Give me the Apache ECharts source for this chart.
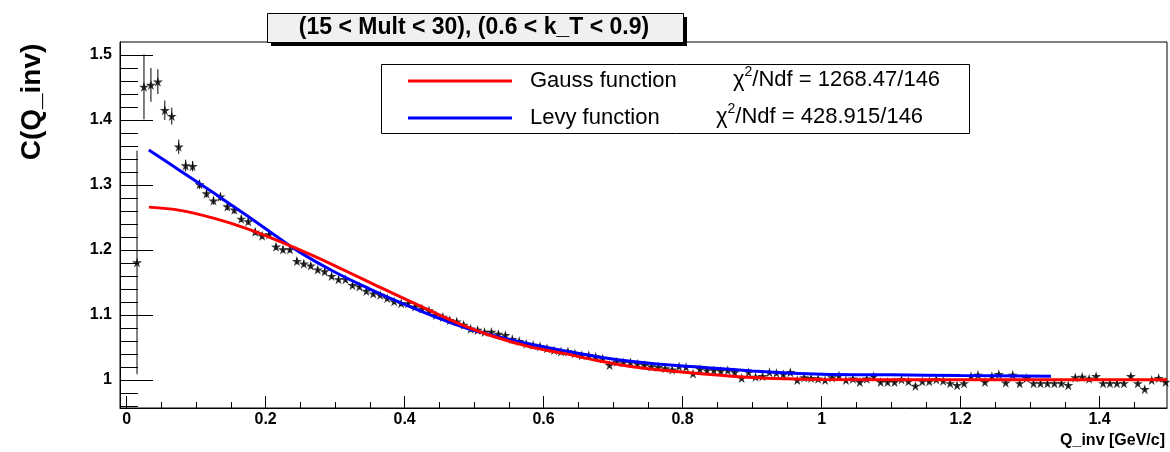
<!DOCTYPE html>
<html><head><meta charset="utf-8">
<script src="https://cdn.jsdelivr.net/npm/echarts@6/dist/echarts.min.js"></script>
<style>html,body{margin:0;padding:0;background:#fff}#c{width:1170px;height:452px}</style>
</head><body><div id="c"></div>
<script>
// ---- data ----
const qValues = [0.015,0.025,0.035,0.045,0.055,0.065,0.075,0.085,0.095,0.105,
0.115,0.125,0.135,0.145,0.155,0.165,0.175,0.185,0.195,0.205,
0.215,0.225,0.235,0.245,0.255,0.265,0.275,0.285,0.295,0.305,
0.315,0.325,0.335,0.345,0.355,0.365,0.375,0.385,0.395,0.405,
0.415,0.425,0.435,0.445,0.455,0.465,0.475,0.485,0.495,0.505,
0.515,0.525,0.535,0.545,0.555,0.565,0.575,0.585,0.595,0.605,
0.615,0.625,0.635,0.645,0.655,0.665,0.675,0.685,0.695,0.705,
0.715,0.725,0.735,0.745,0.755,0.765,0.775,0.785,0.795,0.805,
0.815,0.825,0.835,0.845,0.855,0.865,0.875,0.885,0.895,0.905,
0.915,0.925,0.935,0.945,0.955,0.965,0.975,0.985,0.995,1.005,
1.015,1.025,1.035,1.045,1.055,1.065,1.075,1.085,1.095,1.105,
1.115,1.125,1.135,1.145,1.155,1.165,1.175,1.185,1.195,1.205,
1.215,1.225,1.235,1.245,1.255,1.265,1.275,1.285,1.295,1.305,
1.315,1.325,1.335,1.345,1.355,1.365,1.375,1.385,1.395,1.405,
1.415,1.425,1.435,1.445,1.455,1.465,1.475,1.485,1.495];
const cValues = [1.181,1.451,1.454,1.459,1.415,1.406,1.359,1.330,1.329,1.301,
1.287,1.276,1.282,1.267,1.262,1.248,1.244,1.228,1.222,1.224,
1.205,1.201,1.201,1.183,1.179,1.176,1.170,1.167,1.160,1.155,
1.155,1.146,1.144,1.137,1.133,1.131,1.126,1.121,1.118,1.118,
1.113,1.110,1.107,1.100,1.097,1.092,1.090,1.085,1.079,1.077,
1.074,1.074,1.071,1.069,1.063,1.060,1.056,1.054,1.052,1.049,
1.046,1.044,1.044,1.041,1.038,1.038,1.036,1.033,1.023,1.028,
1.027,1.027,1.025,1.023,1.021,1.020,1.018,1.016,1.021,1.020,
1.010,1.017,1.015,1.015,1.014,1.015,1.012,1.003,1.012,1.005,
1.006,1.012,1.011,1.009,1.012,1.000,1.004,1.003,1.002,1.000,
1.004,1.007,1.000,1.002,0.997,1.002,1.006,0.997,0.997,0.997,
1.001,0.998,0.991,0.998,0.998,1.001,0.999,0.995,0.992,0.995,
1.006,1.008,0.997,1.006,1.009,0.996,1.008,0.995,1.003,0.995,
0.995,0.995,0.995,0.995,0.992,1.004,1.005,1.002,1.006,0.995,
0.995,0.995,0.995,1.006,0.995,0.986,1.000,1.003,0.997];
const cErrors = [0.172,0.050,0.026,0.019,0.015,0.013,0.011,0.009,0.008,0.007,
0.006,0.006,0.006,0.006,0.006,0.005,0.005,0.005,0.005,0.005,
0.005,0.005,0.005,0.005,0.005,0.004,0.004,0.004,0.004,0.004,
0.004,0.004,0.004,0.004,0.004,0.004,0.004,0.004,0.004,0.004,
0.004,0.004,0.004,0.004,0.004,0.004,0.004,0.004,0.004,0.004,
0.003,0.003,0.003,0.003,0.003,0.003,0.003,0.003,0.003,0.003,
0.003,0.003,0.003,0.003,0.003,0.003,0.003,0.003,0.003,0.003,
0.003,0.003,0.003,0.003,0.003,0.003,0.003,0.003,0.003,0.003,
0.003,0.003,0.003,0.003,0.003,0.003,0.003,0.003,0.003,0.003,
0.003,0.003,0.003,0.003,0.003,0.003,0.003,0.003,0.003,0.003,
0.003,0.003,0.003,0.003,0.003,0.003,0.003,0.003,0.003,0.003,
0.003,0.003,0.003,0.003,0.003,0.003,0.003,0.003,0.003,0.003,
0.003,0.003,0.003,0.003,0.003,0.003,0.003,0.003,0.003,0.003,
0.003,0.003,0.003,0.003,0.003,0.003,0.003,0.003,0.003,0.003,
0.003,0.003,0.003,0.003,0.003,0.003,0.003,0.003,0.003];
const gaussQ = [0.032,0.077,0.125,0.173,0.221,0.269,0.317,0.36,0.384,0.432,0.48,0.528,0.581,0.629,0.677,0.725,0.773,0.835,0.9,0.95,1.0,1.2,1.497];
const gaussC = [1.266,1.261,1.249,1.233,1.213,1.191,1.167,1.145,1.133,1.109,1.086,1.067,1.051,1.041,1.030,1.021,1.015,1.009,1.004,1.002,1.001,1.0005,1.0005];
const levyQ = [0.032,0.077,0.125,0.173,0.221,0.25,0.298,0.35,0.394,0.442,0.494,0.55,0.581,0.629,0.677,0.725,0.773,0.835,0.9,0.95,1.0,1.1,1.2,1.33];
const levyC = [1.354,1.322,1.288,1.253,1.217,1.196,1.167,1.140,1.119,1.098,1.078,1.063,1.055,1.045,1.036,1.029,1.024,1.019,1.014,1.011,1.009,1.008,1.007,1.006];
const xMajorTicks = [0,0.2,0.4,0.6,0.8,1.0,1.2,1.4];
const xMinorTicks = [0.05,0.1,0.15,0.25,0.3,0.35,0.45,0.5,0.55,0.65,0.7,0.75,0.85,0.9,0.95,1.05,1.1,1.15,1.25,1.3,1.35,1.45];
const yMajorTicks = [1.0,1.1,1.2,1.3,1.4,1.5];
const yMinorTicks = [0.96,0.98,1.02,1.04,1.06,1.08,1.12,1.14,1.16,1.18,1.22,1.24,1.26,1.28,1.32,1.34,1.36,1.38,1.42,1.44,1.46,1.48];
const titleText = '(15 < Mult < 30), (0.6 < k_T < 0.9)';
const seriesNames = ['Gauss function', 'Levy function'];
const chiValues = ['1268.47/146', '428.915/146'];
const xTitle = 'Q_inv [GeV/c]';
const yTitle = 'C(Q_inv)';

// ---- chart ----
const FONT = '"Liberation Sans", Arial, Helvetica, sans-serif';
const XMIN = -0.0095, XMAX = 1.497, YMIN = 0.957, YMAX = 1.52;
const fmt = v => String(Math.round(v * 10) / 10);
const STAR = 'path://M50,0 L61,35 L98,35 L68,57 L79,91 L50,70 L21,91 L32,57 L2,35 L39,35 Z';

const chart = echarts.init(document.getElementById('c'), null, {renderer: 'canvas'});
const chiRich = {
  n: {fontFamily: FONT, fontSize: 22, color: '#000', lineHeight: 26, verticalAlign: 'bottom'},
  s: {fontFamily: FONT, fontSize: 14, color: '#000', lineHeight: 26, verticalAlign: 'top'}
};
const option = {
  animation: false,
  backgroundColor: '#fff',
  grid: {left: 120, top: 42, right: 3, bottom: 44, show: true, borderColor: '#000', borderWidth: 1, backgroundColor: 'transparent'},
  xAxis: [
    {type: 'value', min: XMIN, max: XMAX, position: 'bottom',
     axisLine: {show: true, onZero: false, lineStyle: {color: '#000', width: 1}},
     axisTick: {show: true, inside: true, length: 12, customValues: xMajorTicks, lineStyle: {color: '#000', width: 1}},
     axisLabel: {show: true, customValues: xMajorTicks, formatter: fmt, color: '#000', fontFamily: FONT, fontWeight: 'bold', fontSize: 16, margin: 4},
     splitLine: {show: false}},
    {type: 'value', min: XMIN, max: XMAX, position: 'bottom',
     axisLine: {show: false, onZero: false},
     axisTick: {show: true, inside: true, length: 6, customValues: xMinorTicks, lineStyle: {color: '#000', width: 1}},
     axisLabel: {show: false}, splitLine: {show: false}}
  ],
  yAxis: [
    {type: 'value', min: YMIN, max: YMAX, position: 'left',
     axisLine: {show: true, onZero: false, lineStyle: {color: '#000', width: 1}},
     axisTick: {show: true, inside: true, length: 33, customValues: yMajorTicks, lineStyle: {color: '#000', width: 1}},
     axisLabel: {show: true, customValues: yMajorTicks, formatter: fmt, color: '#000', fontFamily: FONT, fontWeight: 'bold', fontSize: 16, margin: 8},
     splitLine: {show: false}},
    {type: 'value', min: YMIN, max: YMAX, position: 'left',
     axisLine: {show: false, onZero: false},
     axisTick: {show: true, inside: true, length: 18, customValues: yMinorTicks, lineStyle: {color: '#000', width: 1}},
     axisLabel: {show: false}, splitLine: {show: false}}
  ],
  legend: {
    data: seriesNames, orient: 'vertical', left: 403, top: 65, itemWidth: 104, itemHeight: 3, itemGap: 15,
    icon: 'rect', selectedMode: false, z: 6,
    textStyle: {fontFamily: FONT, fontSize: 22, color: '#000', lineHeight: 22, padding: [0, 0, 0, 13]}
  },
  series: [
    {type: 'custom', name: 'errors', xAxisIndex: 0, yAxisIndex: 0, clip: true, silent: true, z: 2,
     data: qValues.map((q, i) => [q, cValues[i] - cErrors[i], cValues[i] + cErrors[i]]),
     renderItem: (params, api) => {
       const p1 = api.coord([api.value(0), api.value(1)]);
       const p2 = api.coord([api.value(0), api.value(2)]);
       return {type: 'line', shape: {x1: p1[0], y1: p1[1], x2: p2[0], y2: p2[1]}, style: {stroke: '#000', lineWidth: 1}};
     }},
    {type: 'scatter', name: 'data', xAxisIndex: 0, yAxisIndex: 0, clip: true, z: 3,
     symbol: STAR, symbolSize: 10, itemStyle: {color: '#000'},
     data: qValues.map((q, i) => [q, cValues[i]])},
    {type: 'line', name: seriesNames[1], xAxisIndex: 0, yAxisIndex: 0, z: 4,
     data: levyQ.map((q, i) => [q, levyC[i]]), showSymbol: false, symbol: 'none', smooth: 0.35,
     color: '#0000ff', lineStyle: {color: '#0000ff', width: 3}},
    {type: 'line', name: seriesNames[0], xAxisIndex: 0, yAxisIndex: 0, z: 5,
     data: gaussQ.map((q, i) => [q, gaussC[i]]), showSymbol: false, symbol: 'none', smooth: 0.35,
     color: '#ff0000', lineStyle: {color: '#ff0000', width: 3}}
  ],
  graphic: [
    {type: 'rect', z: 5, shape: {x: 381.5, y: 64.5, width: 588, height: 69}, style: {fill: '#fff', stroke: '#000', lineWidth: 1}},
    {type: 'text', z: 7, x: 733, y: 78, style: {text: '{n|χ}{s|2}{n|/Ndf = ' + chiValues[0] + '}', rich: chiRich, verticalAlign: 'middle'}},
    {type: 'text', z: 7, x: 716, y: 115, style: {text: '{n|χ}{s|2}{n|/Ndf = ' + chiValues[1] + '}', rich: chiRich, verticalAlign: 'middle'}},
    {type: 'rect', z: 8, shape: {x: 271, y: 17, width: 416, height: 29}, style: {fill: '#000'}},
    {type: 'rect', z: 9, shape: {x: 267.5, y: 13.5, width: 416, height: 29}, style: {fill: '#f0f0f0', stroke: '#000', lineWidth: 1}},
    {type: 'text', z: 10, x: 474, y: 28, style: {text: titleText, fontFamily: FONT, fontWeight: 'bold', fontSize: 23, fill: '#000', align: 'center', verticalAlign: 'middle'}},
    {type: 'text', z: 10, x: 1165, y: 441, style: {text: xTitle, fontFamily: FONT, fontWeight: 'bold', fontSize: 16, fill: '#000', align: 'right', verticalAlign: 'middle'}},
    {type: 'text', z: 10, x: 32, y: 102, rotation: Math.PI / 2, style: {text: yTitle, fontFamily: FONT, fontWeight: 'bold', fontSize: 28, fill: '#000', align: 'center', verticalAlign: 'middle'}}
  ]
};
chart.setOption(option);
</script></body></html>
